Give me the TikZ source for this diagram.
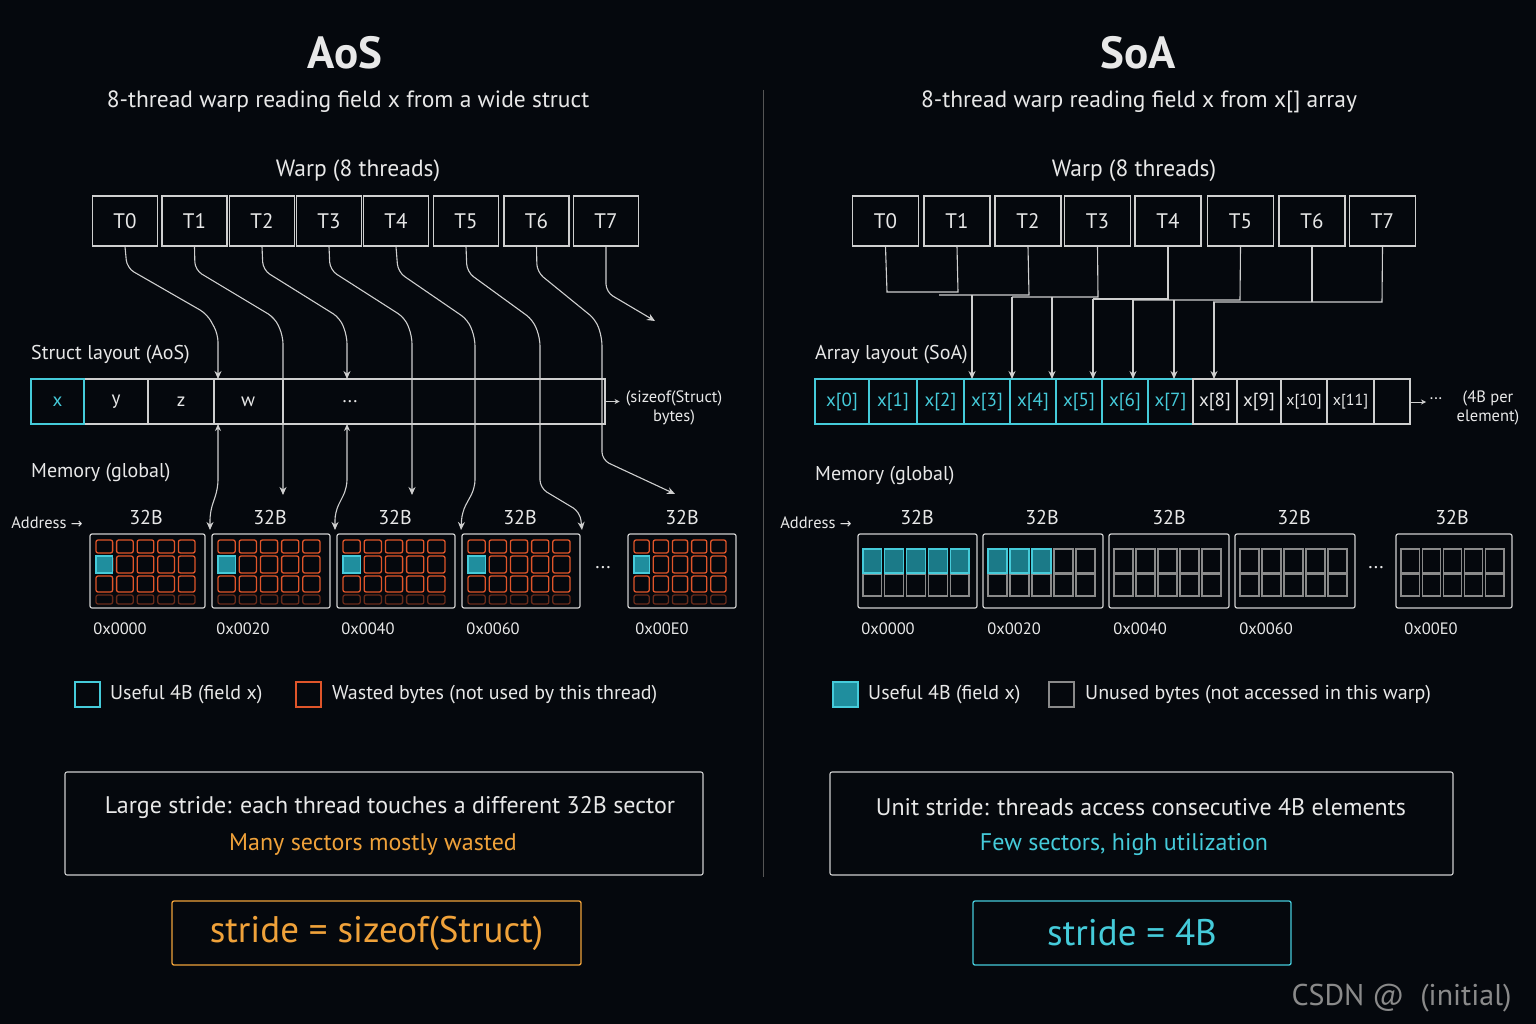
\documentclass[tikz,border=0pt]{standalone}
\usepackage{fontspec}
\setmainfont{PT Sans}
\newfontfamily\symf{DejaVu Sans}
\usetikzlibrary{arrows.meta}
\definecolor{bg}{HTML}{05080D}
\definecolor{ln}{HTML}{CFCFCF}
\definecolor{cy}{HTML}{45CBDA}
\definecolor{cyfill}{HTML}{1F8E9E}
\definecolor{org}{HTML}{E0552A}
\definecolor{amb}{HTML}{F0A23A}
\definecolor{gr}{HTML}{8A8A8A}
\definecolor{txt}{HTML}{E8E8E8}
\definecolor{dv}{HTML}{555555}
\tikzset{
  thr/.style={draw=ln, line width=1.1pt, minimum width=65pt, minimum height=50pt, text=txt, font=\fontsize{21}{24}\selectfont, inner sep=0pt},
  conn/.style={draw=ln, line width=1.1pt, rounded corners=8pt},
  tipe/.style={-{Stealth[length=8pt,width=7pt]}},
  tipb/.style={{Stealth[length=7pt,width=6pt]}-{Stealth[length=8pt,width=7pt]}},
  memblk/.style={draw=ln, line width=1.2pt, rounded corners=2pt, minimum height=74pt, inner sep=0pt},
  lbl/.style={text=txt, inner sep=0pt, font=\fontsize{20}{22}\selectfont},
  sml/.style={text=txt, inner sep=0pt, font=\fontsize{16.5}{19}\selectfont},
  hdr/.style={text=txt, inner sep=0pt, font=\fontsize{23.5}{26}\selectfont},
  adr/.style={text=txt, inner sep=0pt, font=\fontsize{16.5}{19}\selectfont},
  leg/.style={text=txt, inner sep=0pt, anchor=west, font=\fontsize{20}{23}\selectfont},
  cell/.style={text=txt, inner sep=0pt, font=\fontsize{19}{22}\selectfont},
  ttl/.style={text=txt, font=\fontsize{45}{48}\selectfont\bfseries},
  sub/.style={text=txt, font=\fontsize{23.5}{26}\selectfont},
  sumt/.style={font=\fontsize{24}{26}\selectfont},
}
\newcommand\aosblk[3]{%
  \pgfmathsetmacro\bw{#2-#1}%
  \pgfmathsetmacro\bc{(#1+#2)/2}%
  \node[memblk, minimum width=\bw pt] (#3) at (\bc,571) {};
  \pgfmathsetmacro\pp{(\bw-12)/5}%
  \foreach \i in {0,...,4}{%
    \pgfmathsetmacro\cx{#1+6+\i*\pp}%
    \draw[org, line width=1.3pt, rounded corners=2pt] (\cx,540) rectangle ++(\pp-4,13);
    \draw[org, line width=1.3pt, rounded corners=2pt] (\cx,556) rectangle ++(\pp-4,17);
    \draw[org, line width=1.3pt, rounded corners=2pt] (\cx,576) rectangle ++(\pp-4,16);
    \draw[org, line width=1.3pt, rounded corners=2pt, opacity=0.45] (\cx,595) rectangle ++(\pp-4,9);
  }
  \pgfmathsetmacro\cx{#1+6}%
  \draw[cy, fill=cyfill, line width=1.3pt] (\cx,556) rectangle ++(\pp-4,17);
}
\newcommand\soablk[4]{%
  \pgfmathsetmacro\bw{#2-#1}%
  \pgfmathsetmacro\bc{(#1+#2)/2}%
  \node[memblk, minimum width=\bw pt] (#3) at (\bc,571) {};
  \pgfmathsetmacro\pp{(\bw-10)/5}%
  \foreach \i in {0,...,4}{%
    \pgfmathsetmacro\cx{#1+5+\i*\pp}%
    \draw[gr, line width=1.1pt] (\cx,549) rectangle ++(\pp-3,24);
    \draw[gr, line width=1.1pt] (\cx,574) rectangle ++(\pp-3,22);
    \ifnum\i<#4\relax
      \draw[cy, fill=cyfill, fill opacity=0.85, line width=1.1pt] (\cx,549) rectangle ++(\pp-3,24);
    \fi
  }
}
\begin{document}
\begin{tikzpicture}[x=1pt,y=-1pt]
\useasboundingbox (0,0) rectangle (1536,1024);
\fill[bg] (0,0) rectangle (1536,1024);

% divider
\draw[dv, line width=1pt] (763,90) -- (763,877);

% ===== AoS =====
\node[ttl] (ttlA) at (345,53) {AoS};
\node[sub] (subA) at (348,102) {8-thread warp reading field x from a wide struct};
\node[hdr] (warpA) at (358,171) {Warp (8 threads)};
\foreach \n/\c in {0/125,1/194.5,2/262,3/329,4/396,5/466,6/536.5,7/606}{
  \node[thr] (a\n) at (\c,221) {T\n};
}
\node[lbl, anchor=west] (slA) at (31,355) {Struct layout (AoS)};
% struct row
\node[draw=ln, line width=1.1pt, minimum width=574pt, minimum height=45pt, inner sep=0pt] (srow) at (318,401.5) {};
\foreach \x in {148,214,283}{ \draw[ln, line width=1.1pt] (\x,379) -- (\x,424); }
\draw[cy, line width=1.4pt] (31,379) rectangle (84,424);
\node[cell, text=cy] (cx) at (57.5,402) {x};
\node[cell] (cy1) at (116,402) {y};
\node[cell] (cz) at (181,402) {z};
\node[cell] (cw) at (248,402) {w};
\node[cell] (cdots) at (350,402) {...};
\draw[ln, line width=1pt, -{Stealth[length=5pt,width=5pt]}] (srow.east) -- ++(14,0);
\node[sml, align=center] (szA) at (674,408) {(sizeof(Struct)\\bytes)};

\node[lbl, anchor=west] (memA) at (31,473) {Memory (global)};
\node[sml] (addrA) at (47,523) {Address {\symf\fontsize{14}{16}\selectfont →}};

% memory blocks AoS
\aosblk{90}{205}{am1}
\aosblk{212}{330}{am2}
\aosblk{337}{455}{am3}
\aosblk{462}{580}{am4}
\aosblk{628}{736}{am5}
\node[lbl] at (146,517) {32B};
\node[lbl] at (270,517) {32B};
\node[lbl] at (395,517) {32B};
\node[lbl] at (520,517) {32B};
\node[lbl] at (682,517) {32B};
\node[adr] at (120,629) {0x0000};
\node[adr] at (243,629) {0x0020};
\node[adr] at (368,629) {0x0040};
\node[adr] at (493,629) {0x0060};
\node[adr] at (662,629) {0x00E0};
\node[lbl] (mdA) at (603,568) {...};

% AoS connectors
\draw[conn, tipe] (a0.south) -- (127,268) -- (207,314) -- (218,334) -- (218,379);
\draw[conn, tipe] (a1.south) -- (195,270) -- (275,318) -- (283,336) -- (283,495);
\draw[conn, tipe] (a2.south) -- (263,270) -- (340,318) -- (347,336) -- (347,379);
\draw[conn, tipe] (a3.south) -- (330,270) -- (405,318) -- (412,336) -- (412,495);
\draw[conn, tipe] (a4.south) -- (398,272) -- (468,320) -- (475,338) -- (475,488) -- (462,512) -- (461,530);
\draw[conn, tipe] (a5.south) -- (467,272) -- (533,320) -- (540,338) -- (540,488) -- (580,512) -- (582,530);
\draw[conn, tipe] (a6.south) -- (537,272) -- (596,320) -- (602,338) -- (602,460) -- (675,494);
\draw[conn, tipe] (a7.south) -- (606,292) -- (655,321);
\draw[conn, tipb] (218,424) -- (218,488) -- (210,512) -- (210,530);
\draw[conn, tipb] (347,424) -- (347,488) -- (335,512) -- (335,530);

% legend AoS
\draw[cy, line width=1.3pt] (75,682) rectangle (100,707);
\node[leg] at (110,695) {Useful 4B (field x)};
\draw[org, line width=1.3pt] (296,682) rectangle (321,707);
\node[leg] at (332,695) {Wasted bytes (not used by this thread)};

% summary AoS
\node[draw=ln, line width=1.1pt, rounded corners=2pt, minimum width=638pt, minimum height=103pt] (sumA) at (384,823.5) {};
\node[sumt, text=txt] at (390,807) {Large stride: each thread touches a different 32B sector};
\node[sumt, text=amb] at (373,845) {Many sectors mostly wasted};
\node[draw=amb, line width=1.3pt, rounded corners=2pt, minimum width=409pt, minimum height=64pt, text=amb, font=\fontsize{37}{40}\selectfont] (strA) at (376.5,933) {stride = sizeof(Struct)};

% ===== SoA =====
\node[ttl] (ttlB) at (1138,53) {SoA};
\node[sub] (subB) at (1139,102) {8-thread warp reading field x from x[] array};
\node[hdr] (warpB) at (1134,171) {Warp (8 threads)};
\foreach \n/\c in {0/885.5,1/957,2/1028,3/1097.5,4/1168,5/1240.5,6/1312,7/1382.5}{
  \node[thr, minimum width=66pt] (s\n) at (\c,221) {T\n};
}
\node[lbl, anchor=west] (slB) at (815,355) {Array layout (SoA)};
% array row
\foreach \a/\b/\t/\k in {815/869/x[0]/0,869/917/x[1]/1,917/964/x[2]/2,964/1010/x[3]/3,1010/1056/x[4]/4,1056/1102/x[5]/5,1102/1148/x[6]/6,1148/1193/x[7]/7}{
  \draw[cy, line width=1.3pt] (\a,379) rectangle (\b,424);
  \node[cell, text=cy] (e\k) at ({(\a+\b)/2},402) {\t};
}
\foreach \a/\b/\t/\k/\fs in {1193/1237/x[8]/8/19,1237/1281/x[9]/9/19,1281/1327/x[10]/10/16,1327/1374/x[11]/11/16,1374/1410//12/16}{
  \draw[ln, line width=1.1pt] (\a,379) rectangle (\b,424);
  \node[cell, font=\fontsize{\fs}{20}\selectfont] (e\k) at ({(\a+\b)/2},402) {\t};
}
\draw[ln, line width=1pt, -{Stealth[length=5pt,width=5pt]}] (1411,402) -- (1426,402);
\node[sml] (edots) at (1436,401) {···};
\node[sml, align=center] (perB) at (1488,408) {(4B per\\element)};

\node[lbl, anchor=west] (memB) at (815,476) {Memory (global)};
\node[sml] (addrB) at (816,523) {Address {\symf\fontsize{14}{16}\selectfont →}};

\soablk{858}{977}{sm1}{5}
\soablk{983}{1103}{sm2}{3}
\soablk{1109}{1229}{sm3}{0}
\soablk{1235}{1355}{sm4}{0}
\soablk{1396}{1512}{sm5}{0}
\node[lbl] at (917,517) {32B};
\node[lbl] at (1042,517) {32B};
\node[lbl] at (1169,517) {32B};
\node[lbl] at (1294,517) {32B};
\node[lbl] at (1452,517) {32B};
\node[adr] at (888,629) {0x0000};
\node[adr] at (1014,629) {0x0020};
\node[adr] at (1140,629) {0x0040};
\node[adr] at (1266,629) {0x0060};
\node[adr] at (1431,629) {0x00E0};
\node[lbl] (mdB) at (1376,568) {...};

% SoA bus connectors
\draw[conn, rounded corners=0pt] (s0.south) -- (887,292) -- (958,292) -- (s1.south);
\draw[conn, rounded corners=0pt] (939,295) -- (1029,295) -- (s2.south);
\draw[conn, rounded corners=0pt] (1012,297) -- (1098,297) -- (s3.south);
\draw[conn, rounded corners=0pt] (1093,299) -- (1168,299) -- (s4.south);
\draw[conn, rounded corners=0pt] (1133,300) -- (1240,300) -- (s5.south);
\draw[conn, rounded corners=0pt] (1213,302) -- (1382,302) -- (s7.south);
\draw[conn, rounded corners=0pt] (s6.south) -- (1312,302);
\foreach \x/\y in {972/295,1012/297,1052/297,1093/299,1133/300,1174/300,1214/302}{
  \draw[conn, tipe] (\x,\y) -- (\x,379);
}

% legend SoA
\draw[cy, fill=cyfill, line width=1.3pt] (833,682) rectangle (858,707);
\node[leg] at (868,695) {Useful 4B (field x)};
\draw[gr, line width=1.3pt] (1049,682) rectangle (1074,707);
\node[leg] at (1085,695) {Unused bytes (not accessed in this warp)};

% summary SoA
\node[draw=ln, line width=1.1pt, rounded corners=2pt, minimum width=623pt, minimum height=103pt] (sumB) at (1141.5,823.5) {};
\node[sumt, text=txt] at (1141,807) {Unit stride: threads access consecutive 4B elements};
\node[sumt, text=cy] at (1124,845) {Few sectors, high utilization};
\node[draw=cy, line width=1.3pt, rounded corners=2pt, minimum width=318pt, minimum height=64pt, text=cy, font=\fontsize{37}{40}\selectfont] (strB) at (1132,933) {stride = 4B};

% watermark
\node[text=gr, font=\fontsize{30}{32}\selectfont, anchor=east] (wm) at (1515,998) {CSDN @ \ (initial)};
\end{tikzpicture}
\end{document}
